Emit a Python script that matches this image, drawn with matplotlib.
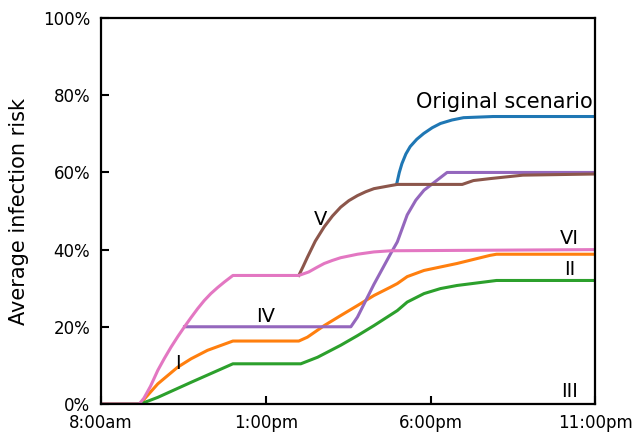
import matplotlib.pyplot as plt
from matplotlib.ticker import FuncFormatter

# hours after 8:00am, risk in %
orig_h = [8.97, 9.05, 9.13, 9.25, 9.38, 9.58, 9.79, 10.05, 10.3, 10.65, 11.0, 11.9, 15]
orig_v = [57.0, 60.0, 62.3, 64.8, 66.7, 68.6, 70.1, 71.6, 72.7, 73.6, 74.2, 74.5, 74.5]

i_h = [0, 1.18, 1.72, 2.32, 2.73, 3.23, 4.0, 6.0, 6.26, 6.77, 7.27, 7.78, 8.28, 8.79, 8.99, 9.29, 9.8, 10.8, 11.8, 12.0, 15]
i_v = [0, 0, 5.2, 9.5, 11.7, 13.9, 16.3, 16.3, 17.3, 20.3, 22.9, 25.5, 28.1, 30.3, 31.2, 33.0, 34.6, 36.4, 38.5, 38.8, 38.8]

ii_h = [0, 1.2, 1.72, 2.73, 4.0, 6.06, 6.57, 7.27, 7.78, 8.28, 8.99, 9.29, 9.8, 10.3, 10.8, 12.0, 15]
ii_v = [0, 0, 1.7, 5.6, 10.4, 10.4, 12.1, 15.2, 17.7, 20.3, 24.2, 26.4, 28.6, 29.9, 30.7, 32.0, 32.0]

iii_h = [0, 15]
iii_v = [0, 0]

iv_h = [2.53, 7.58, 7.78, 8.28, 8.79, 8.99, 9.29, 9.55, 9.8, 10.0, 10.5, 15]
iv_v = [20, 20, 22.5, 31, 39, 42, 49, 52.8, 55.4, 56.7, 60, 60]

v_h = [6.0, 6.13, 6.26, 6.5, 6.77, 7.02, 7.27, 7.52, 7.78, 8.03, 8.28, 8.79, 8.99, 10.96, 11.3, 11.8, 12.8, 15]
v_v = [33.3, 35.6, 38, 42.2, 45.9, 48.7, 51, 52.7, 54, 55.0, 55.8, 56.6, 56.9, 56.9, 57.9, 58.4, 59.3, 59.6]

vi_h = [0, 1.16, 1.3, 1.5, 1.72, 1.92, 2.12, 2.33, 2.53, 2.73, 2.93, 3.13, 3.33, 3.54, 3.74, 4.0, 6.0, 6.3, 6.55, 6.77, 7.02, 7.27, 7.78, 8.28, 8.79, 15]
vi_v = [0, 0, 1.5, 4.6, 8.7, 11.8, 14.7, 17.5, 20, 22.4, 24.7, 26.8, 28.6, 30.2, 31.6, 33.3, 33.3, 34.2, 35.4, 36.4, 37.2, 37.9, 38.8, 39.4, 39.7, 40]

tick_pos = [0, 5, 10, 15]
tick_labels = ['8:00am', '1:00pm', '6:00pm', '11:00pm']

fig = plt.figure(figsize=(6.32, 4.32), dpi=100)
ax = fig.add_axes([0.160, 0.065, 0.782, 0.893])

lw = 2.2
ax.plot(orig_h, orig_v, color='tab:blue', lw=lw)
ax.plot(i_h, i_v, color='tab:orange', lw=lw)
ax.plot(ii_h, ii_v, color='tab:green', lw=lw)
ax.plot(iii_h, iii_v, color='tab:red', lw=lw)
ax.plot(iv_h, iv_v, color='tab:purple', lw=lw)
ax.plot(v_h, v_v, color='tab:brown', lw=lw)
ax.plot(vi_h, vi_v, color='tab:pink', lw=lw)

fs = 14
ax.text(14.92, 78.3, 'Original scenario', fontsize=15, ha='right', va='center')
ax.text(6.65, 47.7, 'V', fontsize=fs, ha='center', va='center')
ax.text(14.22, 43, 'VI', fontsize=fs, ha='center', va='center')
ax.text(14.22, 34.8, 'II', fontsize=fs, ha='center', va='center')
ax.text(14.22, 3.2, 'III', fontsize=fs, ha='center', va='center')
ax.text(4.98, 22.7, 'IV', fontsize=fs, ha='center', va='center')
ax.text(2.34, 10.6, 'I', fontsize=fs, ha='center', va='center')

ax.set_xlim(0, 15)
ax.set_ylim(0, 100)
ax.set_xticks(tick_pos)
ax.set_xticklabels(tick_labels)
ax.set_yticks([0, 20, 40, 60, 80, 100])
ax.yaxis.set_major_formatter(FuncFormatter(lambda v, p: f'{v:.0f}%'))
ax.tick_params(direction='in', length=6, width=1.5)
ax.tick_params(axis='x', labelsize=12, pad=7)
ax.tick_params(axis='y', labelsize=12, pad=8)
for s in ax.spines.values():
    s.set_linewidth(1.6)
ax.set_ylabel('Average infection risk', fontsize=15)
ax.yaxis.set_label_coords(-0.145, 0.5)

fig.savefig('out.png', dpi=100)
